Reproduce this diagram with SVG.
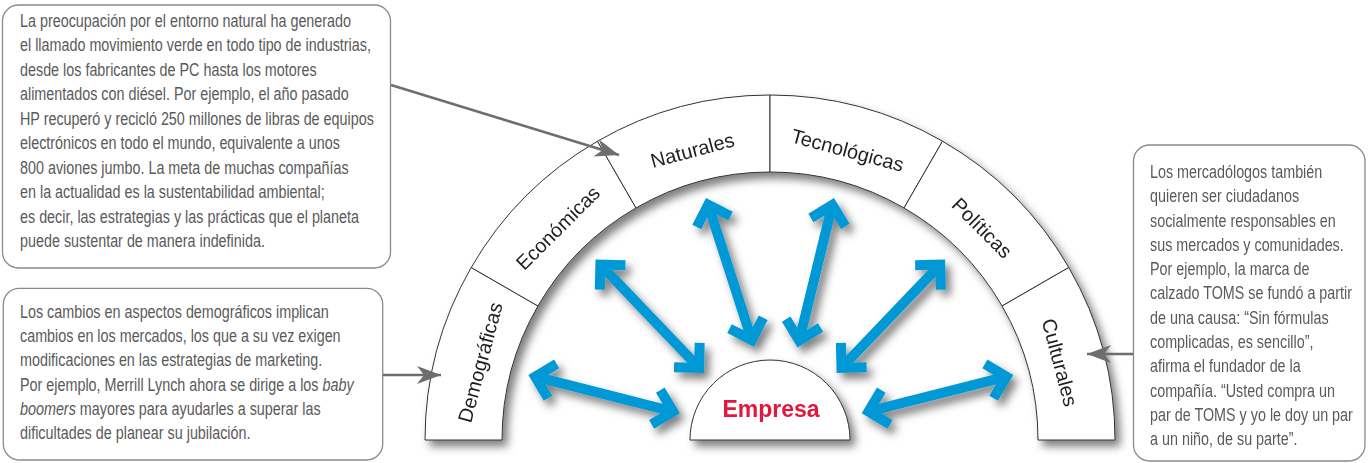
<svg xmlns="http://www.w3.org/2000/svg" width="1370" height="463" viewBox="0 0 1370 463">
<style>
.seg{fill:#fff;stroke:#333;stroke-width:1}
.lbl{font-family:"Liberation Sans",Arial,sans-serif;font-size:20px;fill:#231f20;text-anchor:middle;dominant-baseline:central}
.box{fill:#fff;stroke:#8a8a8a;stroke-width:1.3}
.note{font-family:"Liberation Sans",Arial,sans-serif;font-size:17.5px;fill:#5a5a5a}
.gray{fill:none;stroke:#6d6e70;stroke-width:2.5}
.blue{fill:none;stroke:#0099d6;stroke-width:10}
</style>
<defs>
<filter id="sh" x="-10%" y="-10%" width="130%" height="130%">
<feDropShadow dx="5" dy="6" stdDeviation="4" flood-color="#000" flood-opacity="0.5"/>
</filter>
<marker id="gh" markerUnits="userSpaceOnUse" orient="auto" refX="0" refY="0" markerWidth="40" markerHeight="40" viewBox="-30 -20 40 40" overflow="visible">
<path d="M0,0 L-24,-9 L-17,0 L-24,9 Z" fill="#6d6e70"/>
</marker>
<marker id="bh" markerUnits="userSpaceOnUse" orient="auto-start-reverse" refX="0" refY="0" markerWidth="60" markerHeight="60" viewBox="-30 -30 60 60" overflow="visible">
<path d="M-17.7,-17.7 L0,0 L-17.7,17.7" fill="none" stroke="#0099d6" stroke-width="10" stroke-linejoin="miter"/>
</marker>
</defs>

<g id="arch" filter="url(#sh)">
<g id="seg-demograficas"><path class="seg" d="M425,440 A345,345 0 0 1 471.22,267.5 L537.91,306 A268,268 0 0 0 502,440 Z"/><text class="lbl" transform="translate(480.2 362.4) rotate(-75)">Demográficas</text></g>
<g id="seg-economicas"><path class="seg" d="M471.22,267.5 A345,345 0 0 1 597.5,141.22 L636,207.91 A268,268 0 0 0 537.91,306 Z"/><text class="lbl" transform="translate(557.9 227.9) rotate(-45)">Económicas</text></g>
<g id="seg-naturales"><path class="seg" d="M597.5,141.22 A345,345 0 0 1 770,95 L770,172 A268,268 0 0 0 636,207.91 Z"/><text class="lbl" transform="translate(692.4 150.2) rotate(-15)">Naturales</text></g>
<g id="seg-tecnologicas"><path class="seg" d="M770,95 A345,345 0 0 1 942.5,141.22 L904,207.91 A268,268 0 0 0 770,172 Z"/><text class="lbl" transform="translate(847.6 150.2) rotate(15)">Tecnológicas</text></g>
<g id="seg-politicas"><path class="seg" d="M942.5,141.22 A345,345 0 0 1 1068.78,267.5 L1002.09,306 A268,268 0 0 0 904,207.91 Z"/><text class="lbl" transform="translate(982.1 227.9) rotate(45)">Políticas</text></g>
<g id="seg-culturales"><path class="seg" d="M1068.78,267.5 A345,345 0 0 1 1115,440 L1038,440 A268,268 0 0 0 1002.09,306 Z"/><text class="lbl" transform="translate(1059.8 362.4) rotate(75)">Culturales</text></g>
</g>

<g id="empresa" filter="url(#sh)">
<path class="seg" d="M690,440 A80,80 0 0 1 850,440 Z"/>
<text x="771" y="417" font-family="'Liberation Sans',Arial,sans-serif" font-weight="bold" font-size="23" fill="#e4173e" text-anchor="middle">Empresa</text>
</g>

<g id="note-natural">
<rect class="box" x="2.5" y="5" width="388" height="263" rx="16"/>
<text class="note" transform="translate(20 0) scale(0.82 1)">
<tspan x="0" y="27">La preocupación por el entorno natural ha generado</tspan>
<tspan x="0" y="51.5">el llamado movimiento verde en todo tipo de industrias,</tspan>
<tspan x="0" y="76">desde los fabricantes de PC hasta los motores</tspan>
<tspan x="0" y="100.5">alimentados con diésel. Por ejemplo, el año pasado</tspan>
<tspan x="0" y="125">HP recuperó y recicló 250 millones de libras de equipos</tspan>
<tspan x="0" y="149.5">electrónicos en todo el mundo, equivalente a unos</tspan>
<tspan x="0" y="174">800 aviones jumbo. La meta de muchas compañías</tspan>
<tspan x="0" y="198.5">en la actualidad es la sustentabilidad ambiental;</tspan>
<tspan x="0" y="223">es decir, las estrategias y las prácticas que el planeta</tspan>
<tspan x="0" y="247.5">puede sustentar de manera indefinida.</tspan>
</text>
</g>

<g id="note-demograficas">
<rect class="box" x="3.3" y="288.3" width="379.4" height="171.7" rx="16"/>
<text class="note" transform="translate(20 0) scale(0.82 1)">
<tspan x="0" y="318">Los cambios en aspectos demográficos implican</tspan>
<tspan x="0" y="342.2">cambios en los mercados, los que a su vez exigen</tspan>
<tspan x="0" y="366.4">modificaciones en las estrategias de marketing.</tspan>
<tspan x="0" y="390.6">Por ejemplo, Merrill Lynch ahora se dirige a los <tspan font-style="italic">baby</tspan></tspan>
<tspan x="0" y="414.8"><tspan font-style="italic">boomers</tspan> mayores para ayudarles a superar las</tspan>
<tspan x="0" y="439">dificultades de planear su jubilación.</tspan>
</text>
</g>

<g id="note-culturales">
<rect class="box" x="1133.5" y="145" width="231.5" height="316" rx="16"/>
<text class="note" transform="translate(1150 0) scale(0.82 1)">
<tspan x="0" y="178">Los mercadólogos también</tspan>
<tspan x="0" y="202.3">quieren ser ciudadanos</tspan>
<tspan x="0" y="226.6">socialmente responsables en</tspan>
<tspan x="0" y="250.9">sus mercados y comunidades.</tspan>
<tspan x="0" y="275.2">Por ejemplo, la marca de</tspan>
<tspan x="0" y="299.5">calzado TOMS se fundó a partir</tspan>
<tspan x="0" y="323.8">de una causa: “Sin fórmulas</tspan>
<tspan x="0" y="348.1">complicadas, es sencillo”,</tspan>
<tspan x="0" y="372.4">afirma el fundador de la</tspan>
<tspan x="0" y="396.7">compañía. “Usted compra un</tspan>
<tspan x="0" y="421">par de TOMS y yo le doy un par</tspan>
<tspan x="0" y="445.3">a un niño, de su parte”.</tspan>
</text>
</g>

<g id="connectors">
<path class="gray" d="M391,85 L619,155" marker-end="url(#gh)"/>
<path class="gray" d="M383,375 L441,375" marker-end="url(#gh)"/>
<path class="gray" d="M1133,354 L1087,354" marker-end="url(#gh)"/>
<g filter="url(#sh)">
<path class="blue" d="M535.2,376.7 L673.1,411.6" marker-start="url(#bh)" marker-end="url(#bh)"/>
<path class="blue" d="M600.4,264.6 L699.1,367.9" marker-start="url(#bh)" marker-end="url(#bh)"/>
<path class="blue" d="M708.2,204.7 L751.8,340" marker-start="url(#bh)" marker-end="url(#bh)"/>
<path class="blue" d="M832.3,204.9 L799.2,340.6" marker-start="url(#bh)" marker-end="url(#bh)"/>
<path class="blue" d="M940.2,264.6 L841.5,367.9" marker-start="url(#bh)" marker-end="url(#bh)"/>
<path class="blue" d="M1006.4,376.7 L868.5,411.6" marker-start="url(#bh)" marker-end="url(#bh)"/>
</g>
</g>
</svg>
